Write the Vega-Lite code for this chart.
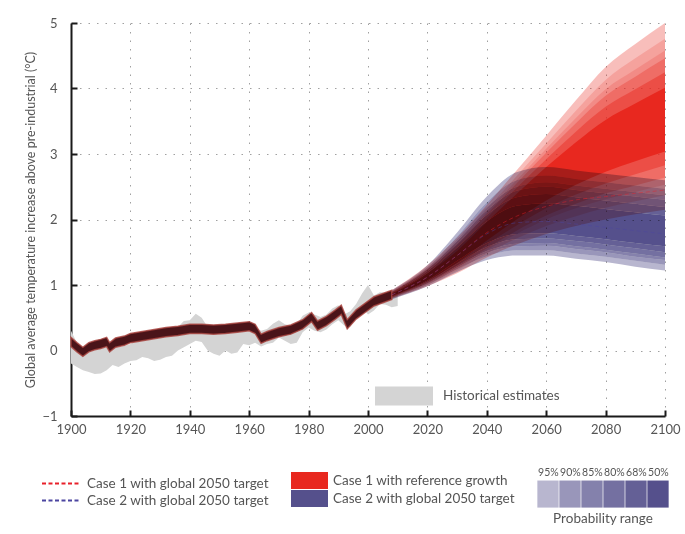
{
  "$schema": "https://vega.github.io/schema/vega-lite/v6.json",
  "width": 594,
  "height": 393,
  "autosize": {"type": "none"},
  "padding": {"left": 71, "top": 23, "right": 20, "bottom": 118},
  "background": "white",
  "config": {
    "view": {"stroke": null},
    "font": "Lato",
    "axis": {
      "labelFont": "Lato", "labelColor": "#555555", "labelFontSize": 13,
      "titleFont": "Lato", "titleColor": "#555555", "titleFontWeight": "normal",
      "domainColor": "#1a1a1a", "domainWidth": 2,
      "tickColor": "#1a1a1a", "tickWidth": 2, "tickSize": -6,
      "grid": true, "gridDash": [1.5, 7], "gridColor": "#a0a0a0", "gridWidth": 1,
      "zindex": 1
    },
    "legend": {
      "labelFont": "Lato", "labelColor": "#555555", "labelFontSize": 13, "labelLimit": 400,
      "titleFont": "Lato", "titleColor": "#555555", "titleFontWeight": "normal",
      "padding": 0, "offset": 0
    }
  },
  "datasets": {
    "hist": [
      {"year": 1900, "lo": -0.20, "hi": 0.30}, {"year": 1902, "lo": -0.25, "hi": 0.12},
      {"year": 1904, "lo": -0.30, "hi": 0.02}, {"year": 1906, "lo": -0.33, "hi": 0.00},
      {"year": 1908, "lo": -0.36, "hi": 0.05}, {"year": 1910, "lo": -0.35, "hi": 0.03},
      {"year": 1912, "lo": -0.30, "hi": 0.05}, {"year": 1914, "lo": -0.22, "hi": 0.10},
      {"year": 1916, "lo": -0.25, "hi": 0.05}, {"year": 1918, "lo": -0.20, "hi": 0.07},
      {"year": 1920, "lo": -0.16, "hi": 0.10}, {"year": 1922, "lo": -0.15, "hi": 0.14},
      {"year": 1924, "lo": -0.10, "hi": 0.17}, {"year": 1926, "lo": -0.12, "hi": 0.20},
      {"year": 1928, "lo": -0.16, "hi": 0.22}, {"year": 1930, "lo": -0.14, "hi": 0.22},
      {"year": 1932, "lo": -0.10, "hi": 0.28}, {"year": 1934, "lo": -0.08, "hi": 0.33},
      {"year": 1936, "lo": 0.00, "hi": 0.36}, {"year": 1938, "lo": 0.05, "hi": 0.45},
      {"year": 1940, "lo": 0.10, "hi": 0.46}, {"year": 1942, "lo": 0.15, "hi": 0.56},
      {"year": 1944, "lo": 0.13, "hi": 0.50}, {"year": 1946, "lo": 0.00, "hi": 0.36},
      {"year": 1948, "lo": -0.05, "hi": 0.32}, {"year": 1950, "lo": -0.08, "hi": 0.30},
      {"year": 1952, "lo": 0.00, "hi": 0.35}, {"year": 1954, "lo": -0.05, "hi": 0.30},
      {"year": 1956, "lo": -0.03, "hi": 0.32}, {"year": 1958, "lo": 0.10, "hi": 0.41},
      {"year": 1960, "lo": 0.08, "hi": 0.38}, {"year": 1962, "lo": 0.12, "hi": 0.36},
      {"year": 1964, "lo": 0.06, "hi": 0.30}, {"year": 1966, "lo": 0.10, "hi": 0.33},
      {"year": 1968, "lo": 0.12, "hi": 0.41}, {"year": 1970, "lo": 0.20, "hi": 0.46},
      {"year": 1972, "lo": 0.15, "hi": 0.40}, {"year": 1974, "lo": 0.10, "hi": 0.38},
      {"year": 1976, "lo": 0.12, "hi": 0.40}, {"year": 1978, "lo": 0.28, "hi": 0.53},
      {"year": 1980, "lo": 0.35, "hi": 0.58}, {"year": 1982, "lo": 0.30, "hi": 0.55},
      {"year": 1984, "lo": 0.28, "hi": 0.51}, {"year": 1986, "lo": 0.32, "hi": 0.55},
      {"year": 1988, "lo": 0.40, "hi": 0.64}, {"year": 1990, "lo": 0.46, "hi": 0.69},
      {"year": 1992, "lo": 0.38, "hi": 0.55}, {"year": 1994, "lo": 0.36, "hi": 0.60},
      {"year": 1996, "lo": 0.50, "hi": 0.71}, {"year": 1998, "lo": 0.66, "hi": 0.87},
      {"year": 2000, "lo": 0.55, "hi": 1.00}, {"year": 2002, "lo": 0.61, "hi": 0.84},
      {"year": 2004, "lo": 0.71, "hi": 0.89}, {"year": 2006, "lo": 0.70, "hi": 0.88},
      {"year": 2008, "lo": 0.66, "hi": 0.84}, {"year": 2010, "lo": 0.68, "hi": 0.86}
    ],
    "model": [
      {"year": 1900, "lo": 0.06, "hi": 0.20}, {"year": 1902, "lo": -0.02, "hi": 0.12},
      {"year": 1904, "lo": -0.09, "hi": 0.05}, {"year": 1906, "lo": -0.02, "hi": 0.12},
      {"year": 1908, "lo": 0.01, "hi": 0.15}, {"year": 1910, "lo": 0.03, "hi": 0.17},
      {"year": 1912, "lo": 0.06, "hi": 0.20}, {"year": 1913, "lo": -0.02, "hi": 0.12},
      {"year": 1915, "lo": 0.05, "hi": 0.19}, {"year": 1918, "lo": 0.08, "hi": 0.22},
      {"year": 1920, "lo": 0.12, "hi": 0.26}, {"year": 1924, "lo": 0.15, "hi": 0.29},
      {"year": 1928, "lo": 0.18, "hi": 0.32}, {"year": 1932, "lo": 0.21, "hi": 0.35},
      {"year": 1936, "lo": 0.23, "hi": 0.37}, {"year": 1940, "lo": 0.26, "hi": 0.40},
      {"year": 1944, "lo": 0.26, "hi": 0.40}, {"year": 1948, "lo": 0.25, "hi": 0.39},
      {"year": 1952, "lo": 0.26, "hi": 0.40}, {"year": 1956, "lo": 0.28, "hi": 0.42},
      {"year": 1960, "lo": 0.30, "hi": 0.44}, {"year": 1962, "lo": 0.26, "hi": 0.40},
      {"year": 1964, "lo": 0.11, "hi": 0.25}, {"year": 1966, "lo": 0.15, "hi": 0.29},
      {"year": 1970, "lo": 0.21, "hi": 0.35}, {"year": 1974, "lo": 0.25, "hi": 0.39},
      {"year": 1978, "lo": 0.33, "hi": 0.47}, {"year": 1981, "lo": 0.44, "hi": 0.58},
      {"year": 1983, "lo": 0.31, "hi": 0.45}, {"year": 1986, "lo": 0.38, "hi": 0.52},
      {"year": 1989, "lo": 0.48, "hi": 0.62}, {"year": 1991, "lo": 0.55, "hi": 0.69},
      {"year": 1993, "lo": 0.33, "hi": 0.47}, {"year": 1996, "lo": 0.48, "hi": 0.62},
      {"year": 1999, "lo": 0.58, "hi": 0.72}, {"year": 2002, "lo": 0.68, "hi": 0.82},
      {"year": 2005, "lo": 0.73, "hi": 0.87}, {"year": 2008, "lo": 0.78, "hi": 0.92}
    ],
    "fan1": [
      {"prob": "95%", "year": 2008, "lo": 0.79, "hi": 0.92}, {"prob": "95%", "year": 2020, "lo": 0.98, "hi": 1.30},
      {"prob": "95%", "year": 2030, "lo": 1.18, "hi": 1.72}, {"prob": "95%", "year": 2040, "lo": 1.42, "hi": 2.22},
      {"prob": "95%", "year": 2050, "lo": 1.62, "hi": 2.75}, {"prob": "95%", "year": 2060, "lo": 1.78, "hi": 3.28},
      {"prob": "95%", "year": 2070, "lo": 1.90, "hi": 3.82}, {"prob": "95%", "year": 2080, "lo": 2.00, "hi": 4.33},
      {"prob": "95%", "year": 2090, "lo": 2.08, "hi": 4.68}, {"prob": "95%", "year": 2100, "lo": 2.15, "hi": 5.00},
      {"prob": "90%", "year": 2008, "lo": 0.80, "hi": 0.91}, {"prob": "90%", "year": 2020, "lo": 1.00, "hi": 1.27},
      {"prob": "90%", "year": 2030, "lo": 1.22, "hi": 1.67}, {"prob": "90%", "year": 2040, "lo": 1.48, "hi": 2.16},
      {"prob": "90%", "year": 2050, "lo": 1.71, "hi": 2.66}, {"prob": "90%", "year": 2060, "lo": 1.90, "hi": 3.16},
      {"prob": "90%", "year": 2070, "lo": 2.05, "hi": 3.66}, {"prob": "90%", "year": 2080, "lo": 2.18, "hi": 4.13},
      {"prob": "90%", "year": 2090, "lo": 2.28, "hi": 4.46}, {"prob": "90%", "year": 2100, "lo": 2.37, "hi": 4.76},
      {"prob": "85%", "year": 2008, "lo": 0.81, "hi": 0.90}, {"prob": "85%", "year": 2020, "lo": 1.02, "hi": 1.25},
      {"prob": "85%", "year": 2030, "lo": 1.25, "hi": 1.64}, {"prob": "85%", "year": 2040, "lo": 1.53, "hi": 2.11},
      {"prob": "85%", "year": 2050, "lo": 1.78, "hi": 2.60}, {"prob": "85%", "year": 2060, "lo": 2.00, "hi": 3.08},
      {"prob": "85%", "year": 2070, "lo": 2.17, "hi": 3.55}, {"prob": "85%", "year": 2080, "lo": 2.31, "hi": 3.99},
      {"prob": "85%", "year": 2090, "lo": 2.42, "hi": 4.29}, {"prob": "85%", "year": 2100, "lo": 2.53, "hi": 4.58},
      {"prob": "80%", "year": 2008, "lo": 0.81, "hi": 0.89}, {"prob": "80%", "year": 2020, "lo": 1.03, "hi": 1.24},
      {"prob": "80%", "year": 2030, "lo": 1.27, "hi": 1.61}, {"prob": "80%", "year": 2040, "lo": 1.56, "hi": 2.08},
      {"prob": "80%", "year": 2050, "lo": 1.83, "hi": 2.55}, {"prob": "80%", "year": 2060, "lo": 2.06, "hi": 3.02},
      {"prob": "80%", "year": 2070, "lo": 2.24, "hi": 3.47}, {"prob": "80%", "year": 2080, "lo": 2.40, "hi": 3.89},
      {"prob": "80%", "year": 2090, "lo": 2.52, "hi": 4.18}, {"prob": "80%", "year": 2100, "lo": 2.64, "hi": 4.46},
      {"prob": "68%", "year": 2008, "lo": 0.82, "hi": 0.89}, {"prob": "68%", "year": 2020, "lo": 1.05, "hi": 1.21},
      {"prob": "68%", "year": 2030, "lo": 1.30, "hi": 1.57}, {"prob": "68%", "year": 2040, "lo": 1.62, "hi": 2.02},
      {"prob": "68%", "year": 2050, "lo": 1.91, "hi": 2.48}, {"prob": "68%", "year": 2060, "lo": 2.17, "hi": 2.92},
      {"prob": "68%", "year": 2070, "lo": 2.38, "hi": 3.34}, {"prob": "68%", "year": 2080, "lo": 2.55, "hi": 3.72},
      {"prob": "68%", "year": 2090, "lo": 2.69, "hi": 3.99}, {"prob": "68%", "year": 2100, "lo": 2.83, "hi": 4.25},
      {"prob": "50%", "year": 2008, "lo": 0.83, "hi": 0.87}, {"prob": "50%", "year": 2020, "lo": 1.07, "hi": 1.18},
      {"prob": "50%", "year": 2030, "lo": 1.34, "hi": 1.52}, {"prob": "50%", "year": 2040, "lo": 1.68, "hi": 1.96},
      {"prob": "50%", "year": 2050, "lo": 2.00, "hi": 2.39}, {"prob": "50%", "year": 2060, "lo": 2.29, "hi": 2.80},
      {"prob": "50%", "year": 2070, "lo": 2.53, "hi": 3.18}, {"prob": "50%", "year": 2080, "lo": 2.73, "hi": 3.52},
      {"prob": "50%", "year": 2090, "lo": 2.89, "hi": 3.77}, {"prob": "50%", "year": 2100, "lo": 3.04, "hi": 4.01}
    ],
    "fan2": [
      {"prob": "95%", "part": "l", "year": 2008, "a": 0.78, "b": 0.79}, {"prob": "95%", "part": "l", "year": 2020, "a": 0.98, "b": 1.00},
      {"prob": "95%", "part": "l", "year": 2030, "a": 1.20, "b": 1.24}, {"prob": "95%", "part": "l", "year": 2040, "a": 1.38, "b": 1.44},
      {"prob": "95%", "part": "l", "year": 2050, "a": 1.45, "b": 1.53}, {"prob": "95%", "part": "l", "year": 2060, "a": 1.45, "b": 1.53},
      {"prob": "95%", "part": "l", "year": 2070, "a": 1.40, "b": 1.48}, {"prob": "95%", "part": "l", "year": 2080, "a": 1.35, "b": 1.43},
      {"prob": "95%", "part": "l", "year": 2090, "a": 1.28, "b": 1.37}, {"prob": "95%", "part": "l", "year": 2100, "a": 1.22, "b": 1.31},
      {"prob": "95%", "part": "u", "year": 2008, "a": 0.91, "b": 0.92}, {"prob": "95%", "part": "u", "year": 2020, "a": 1.27, "b": 1.30},
      {"prob": "95%", "part": "u", "year": 2030, "a": 1.74, "b": 1.80}, {"prob": "95%", "part": "u", "year": 2040, "a": 2.26, "b": 2.35},
      {"prob": "95%", "part": "u", "year": 2050, "a": 2.60, "b": 2.72}, {"prob": "95%", "part": "u", "year": 2060, "a": 2.67, "b": 2.80},
      {"prob": "95%", "part": "u", "year": 2070, "a": 2.62, "b": 2.75}, {"prob": "95%", "part": "u", "year": 2080, "a": 2.57, "b": 2.70},
      {"prob": "95%", "part": "u", "year": 2090, "a": 2.52, "b": 2.65}, {"prob": "95%", "part": "u", "year": 2100, "a": 2.47, "b": 2.60},
      {"prob": "90%", "part": "l", "year": 2008, "a": 0.79, "b": 0.80}, {"prob": "90%", "part": "l", "year": 2020, "a": 1.00, "b": 1.02},
      {"prob": "90%", "part": "l", "year": 2030, "a": 1.24, "b": 1.27}, {"prob": "90%", "part": "l", "year": 2040, "a": 1.44, "b": 1.49},
      {"prob": "90%", "part": "l", "year": 2050, "a": 1.53, "b": 1.59}, {"prob": "90%", "part": "l", "year": 2060, "a": 1.53, "b": 1.60},
      {"prob": "90%", "part": "l", "year": 2070, "a": 1.48, "b": 1.55}, {"prob": "90%", "part": "l", "year": 2080, "a": 1.43, "b": 1.50},
      {"prob": "90%", "part": "l", "year": 2090, "a": 1.37, "b": 1.43}, {"prob": "90%", "part": "l", "year": 2100, "a": 1.31, "b": 1.38},
      {"prob": "90%", "part": "u", "year": 2008, "a": 0.90, "b": 0.91}, {"prob": "90%", "part": "u", "year": 2020, "a": 1.25, "b": 1.27},
      {"prob": "90%", "part": "u", "year": 2030, "a": 1.70, "b": 1.74}, {"prob": "90%", "part": "u", "year": 2040, "a": 2.19, "b": 2.26},
      {"prob": "90%", "part": "u", "year": 2050, "a": 2.50, "b": 2.60}, {"prob": "90%", "part": "u", "year": 2060, "a": 2.57, "b": 2.67},
      {"prob": "90%", "part": "u", "year": 2070, "a": 2.52, "b": 2.62}, {"prob": "90%", "part": "u", "year": 2080, "a": 2.47, "b": 2.57},
      {"prob": "90%", "part": "u", "year": 2090, "a": 2.42, "b": 2.52}, {"prob": "90%", "part": "u", "year": 2100, "a": 2.37, "b": 2.47},
      {"prob": "85%", "part": "l", "year": 2008, "a": 0.80, "b": 0.81}, {"prob": "85%", "part": "l", "year": 2020, "a": 1.02, "b": 1.03},
      {"prob": "85%", "part": "l", "year": 2030, "a": 1.27, "b": 1.29}, {"prob": "85%", "part": "l", "year": 2040, "a": 1.49, "b": 1.52},
      {"prob": "85%", "part": "l", "year": 2050, "a": 1.59, "b": 1.63}, {"prob": "85%", "part": "l", "year": 2060, "a": 1.60, "b": 1.64},
      {"prob": "85%", "part": "l", "year": 2070, "a": 1.55, "b": 1.59}, {"prob": "85%", "part": "l", "year": 2080, "a": 1.50, "b": 1.54},
      {"prob": "85%", "part": "l", "year": 2090, "a": 1.43, "b": 1.48}, {"prob": "85%", "part": "l", "year": 2100, "a": 1.38, "b": 1.42},
      {"prob": "85%", "part": "u", "year": 2008, "a": 0.89, "b": 0.90}, {"prob": "85%", "part": "u", "year": 2020, "a": 1.24, "b": 1.25},
      {"prob": "85%", "part": "u", "year": 2030, "a": 1.67, "b": 1.70}, {"prob": "85%", "part": "u", "year": 2040, "a": 2.14, "b": 2.19},
      {"prob": "85%", "part": "u", "year": 2050, "a": 2.44, "b": 2.50}, {"prob": "85%", "part": "u", "year": 2060, "a": 2.50, "b": 2.57},
      {"prob": "85%", "part": "u", "year": 2070, "a": 2.45, "b": 2.52}, {"prob": "85%", "part": "u", "year": 2080, "a": 2.40, "b": 2.47},
      {"prob": "85%", "part": "u", "year": 2090, "a": 2.35, "b": 2.42}, {"prob": "85%", "part": "u", "year": 2100, "a": 2.30, "b": 2.37},
      {"prob": "80%", "part": "l", "year": 2008, "a": 0.81, "b": 0.82}, {"prob": "80%", "part": "l", "year": 2020, "a": 1.03, "b": 1.05},
      {"prob": "80%", "part": "l", "year": 2030, "a": 1.29, "b": 1.33}, {"prob": "80%", "part": "l", "year": 2040, "a": 1.52, "b": 1.58},
      {"prob": "80%", "part": "l", "year": 2050, "a": 1.63, "b": 1.70}, {"prob": "80%", "part": "l", "year": 2060, "a": 1.64, "b": 1.71},
      {"prob": "80%", "part": "l", "year": 2070, "a": 1.59, "b": 1.67}, {"prob": "80%", "part": "l", "year": 2080, "a": 1.54, "b": 1.62},
      {"prob": "80%", "part": "l", "year": 2090, "a": 1.48, "b": 1.56}, {"prob": "80%", "part": "l", "year": 2100, "a": 1.42, "b": 1.50},
      {"prob": "80%", "part": "u", "year": 2008, "a": 0.88, "b": 0.89}, {"prob": "80%", "part": "u", "year": 2020, "a": 1.21, "b": 1.24},
      {"prob": "80%", "part": "u", "year": 2030, "a": 1.63, "b": 1.67}, {"prob": "80%", "part": "u", "year": 2040, "a": 2.07, "b": 2.14},
      {"prob": "80%", "part": "u", "year": 2050, "a": 2.34, "b": 2.44}, {"prob": "80%", "part": "u", "year": 2060, "a": 2.39, "b": 2.50},
      {"prob": "80%", "part": "u", "year": 2070, "a": 2.34, "b": 2.45}, {"prob": "80%", "part": "u", "year": 2080, "a": 2.29, "b": 2.40},
      {"prob": "80%", "part": "u", "year": 2090, "a": 2.24, "b": 2.35}, {"prob": "80%", "part": "u", "year": 2100, "a": 2.19, "b": 2.30},
      {"prob": "68%", "part": "l", "year": 2008, "a": 0.82, "b": 0.83}, {"prob": "68%", "part": "l", "year": 2020, "a": 1.05, "b": 1.07},
      {"prob": "68%", "part": "l", "year": 2030, "a": 1.33, "b": 1.37}, {"prob": "68%", "part": "l", "year": 2040, "a": 1.58, "b": 1.64},
      {"prob": "68%", "part": "l", "year": 2050, "a": 1.70, "b": 1.78}, {"prob": "68%", "part": "l", "year": 2060, "a": 1.71, "b": 1.79},
      {"prob": "68%", "part": "l", "year": 2070, "a": 1.67, "b": 1.75}, {"prob": "68%", "part": "l", "year": 2080, "a": 1.62, "b": 1.70},
      {"prob": "68%", "part": "l", "year": 2090, "a": 1.56, "b": 1.64}, {"prob": "68%", "part": "l", "year": 2100, "a": 1.50, "b": 1.59},
      {"prob": "68%", "part": "u", "year": 2008, "a": 0.87, "b": 0.88}, {"prob": "68%", "part": "u", "year": 2020, "a": 1.18, "b": 1.21},
      {"prob": "68%", "part": "u", "year": 2030, "a": 1.57, "b": 1.63}, {"prob": "68%", "part": "u", "year": 2040, "a": 1.97, "b": 2.07},
      {"prob": "68%", "part": "u", "year": 2050, "a": 2.21, "b": 2.34}, {"prob": "68%", "part": "u", "year": 2060, "a": 2.25, "b": 2.39},
      {"prob": "68%", "part": "u", "year": 2070, "a": 2.21, "b": 2.34}, {"prob": "68%", "part": "u", "year": 2080, "a": 2.16, "b": 2.29},
      {"prob": "68%", "part": "u", "year": 2090, "a": 2.11, "b": 2.24}, {"prob": "68%", "part": "u", "year": 2100, "a": 2.06, "b": 2.19},
      {"prob": "50%", "part": "l", "year": 2008, "a": 0.83, "b": 0.87}, {"prob": "50%", "part": "l", "year": 2020, "a": 1.07, "b": 1.18},
      {"prob": "50%", "part": "l", "year": 2030, "a": 1.37, "b": 1.57}, {"prob": "50%", "part": "l", "year": 2040, "a": 1.64, "b": 1.97},
      {"prob": "50%", "part": "l", "year": 2050, "a": 1.78, "b": 2.21}, {"prob": "50%", "part": "l", "year": 2060, "a": 1.79, "b": 2.25},
      {"prob": "50%", "part": "l", "year": 2070, "a": 1.75, "b": 2.21}, {"prob": "50%", "part": "l", "year": 2080, "a": 1.70, "b": 2.16},
      {"prob": "50%", "part": "l", "year": 2090, "a": 1.64, "b": 2.11}, {"prob": "50%", "part": "l", "year": 2100, "a": 1.59, "b": 2.06}
    ],
    "targets": [
      {"target": "Case 1 with global 2050 target", "year": 2008, "value": 0.85},
      {"target": "Case 1 with global 2050 target", "year": 2020, "value": 1.12},
      {"target": "Case 1 with global 2050 target", "year": 2030, "value": 1.45},
      {"target": "Case 1 with global 2050 target", "year": 2040, "value": 1.80},
      {"target": "Case 1 with global 2050 target", "year": 2050, "value": 2.05},
      {"target": "Case 1 with global 2050 target", "year": 2060, "value": 2.20},
      {"target": "Case 1 with global 2050 target", "year": 2070, "value": 2.30},
      {"target": "Case 1 with global 2050 target", "year": 2080, "value": 2.35},
      {"target": "Case 1 with global 2050 target", "year": 2090, "value": 2.40},
      {"target": "Case 1 with global 2050 target", "year": 2100, "value": 2.45},
      {"target": "Case 2 with global 2050 target", "year": 2008, "value": 0.85},
      {"target": "Case 2 with global 2050 target", "year": 2020, "value": 1.12},
      {"target": "Case 2 with global 2050 target", "year": 2030, "value": 1.45},
      {"target": "Case 2 with global 2050 target", "year": 2040, "value": 1.78},
      {"target": "Case 2 with global 2050 target", "year": 2050, "value": 1.95},
      {"target": "Case 2 with global 2050 target", "year": 2060, "value": 1.97},
      {"target": "Case 2 with global 2050 target", "year": 2070, "value": 1.93},
      {"target": "Case 2 with global 2050 target", "year": 2080, "value": 1.88},
      {"target": "Case 2 with global 2050 target", "year": 2090, "value": 1.83},
      {"target": "Case 2 with global 2050 target", "year": 2100, "value": 1.78}
    ]
  },
  "encoding": {
    "x": {
      "field": "year", "type": "quantitative",
      "scale": {"domain": [1900, 2100], "nice": false},
      "axis": {"values": [1900, 1920, 1940, 1960, 1980, 2000, 2020, 2040, 2060, 2080, 2100], "format": "d", "title": null, "labelPadding": 13, "labelFlush": false}
    }
  },
  "layer": [
    {
      "data": {"name": "hist"},
      "mark": {"type": "area", "interpolate": "linear"},
      "encoding": {
        "y": {"field": "lo", "type": "quantitative",
          "scale": {"domain": [-1, 5], "nice": false},
          "axis": {"values": [-1, 0, 1, 2, 3, 4, 5], "format": "d", "title": "Global average temperature increase above pre-industrial (°C)", "titleFontSize": 12.5, "titlePadding": 4, "labelPadding": 20}},
        "y2": {"field": "hi"},
        "color": {"datum": "Historical estimates", "type": "nominal",
          "scale": {"range": ["#d4d4d4"]},
          "legend": {"title": null, "orient": "none", "legendX": 304, "legendY": 344,
            "symbolType": "M-1,-0.33H1V0.33H-1Z", "symbolSize": 3364, "symbolStrokeWidth": 0,
            "labelOffset": 10, "labelFontSize": 13.5}}
      }
    },
    {
      "data": {"name": "fan1"},
      "mark": {"type": "area", "interpolate": "monotone"},
      "encoding": {
        "y": {"field": "lo", "type": "quantitative"},
        "y2": {"field": "hi"},
        "fill": {"datum": "Case 1 with reference growth", "type": "nominal",
          "scale": {"domain": ["Case 1 with reference growth", "Case 2 with global 2050 target"], "range": ["#e8281f", "#55508c"]},
          "legend": {"title": null, "orient": "none", "legendX": 220, "legendY": 449,
            "symbolType": "M-1,-0.46H1V0.46H-1Z", "symbolSize": 1369, "symbolStrokeWidth": 0, "symbolOpacity": 1,
            "labelOffset": 5, "rowPadding": 1, "clipHeight": 17, "labelFontSize": 13.5}},
        "fillOpacity": {"field": "prob", "type": "ordinal",
          "scale": {"type": "ordinal", "domain": ["50%", "68%", "80%", "85%", "90%", "95%"], "range": [1.0, 0.45, 0.3, 0.18, 0.19, 0.3]},
          "legend": null}
      }
    },
    {
      "data": {"name": "fan2"},
      "mark": {"type": "area", "interpolate": "monotone", "blend": "multiply"},
      "encoding": {
        "y": {"field": "a", "type": "quantitative"},
        "y2": {"field": "b"},
        "detail": {"field": "part", "type": "nominal"},
        "fill": {"datum": "Case 2 with global 2050 target", "type": "nominal"},
        "opacity": {"field": "prob", "type": "ordinal",
          "scale": {"type": "ordinal", "domain": ["95%", "90%", "85%", "80%", "68%", "50%"], "range": [0.42, 0.6, 0.72, 0.82, 0.91, 1.0]},
          "legend": {"title": "Probability range", "titleOrient": "bottom", "titleAnchor": "middle", "titleFontSize": 13.5, "titlePadding": 4,
            "orient": "none", "legendX": 466, "legendY": 444, "direction": "horizontal",
            "symbolType": "M-1,0.2H1V2.74H-1Z", "symbolSize": 454, "symbolStrokeWidth": 0,
            "columnPadding": 0, "labelOffset": -10.65, "labelFontSize": 10.5,
            "labelAlign": "center", "labelBaseline": "bottom"}}
      }
    },
    {
      "data": {"name": "model"},
      "mark": {"type": "area", "interpolate": "linear", "fill": "#4a1419", "stroke": "#a8413c", "strokeWidth": 1.5, "strokeOpacity": 0.8},
      "encoding": {
        "y": {"field": "lo", "type": "quantitative"},
        "y2": {"field": "hi"}
      }
    },
    {
      "data": {"name": "targets"},
      "mark": {"type": "line", "interpolate": "monotone", "strokeDash": [4, 3], "strokeWidth": 1, "opacity": 0.45},
      "encoding": {
        "y": {"field": "value", "type": "quantitative"},
        "stroke": {"field": "target", "type": "nominal",
          "scale": {"domain": ["Case 1 with global 2050 target", "Case 2 with global 2050 target"], "range": ["#e8202a", "#4b45a0"]},
          "legend": {"title": null, "orient": "none", "legendX": -30, "legendY": 452,
            "symbolType": "stroke", "symbolSize": 1521, "symbolStrokeWidth": 2, "symbolDash": [4, 2.5], "symbolOpacity": 1,
            "labelOffset": 5, "rowPadding": -3, "clipHeight": 17, "labelFontSize": 13.5}}
      }
    },
    {
      "data": {"values": [{}]},
      "mark": {"type": "rule", "color": "#ffffff", "strokeWidth": 7},
      "encoding": {"y": {"datum": 2}, "x": {"datum": 1900}, "x2": {"datum": 2100}}
    },
    {
      "data": {"values": [{}]},
      "mark": {"type": "rule", "color": "#2e3592", "strokeWidth": 4},
      "encoding": {"y": {"datum": 2}, "x": {"datum": 1900}, "x2": {"datum": 2100}}
    },
    {
      "data": {"values": [{}]},
      "mark": {"type": "rule", "color": "#e4e7ee", "strokeWidth": 8},
      "encoding": {"y": {"datum": 1.5}, "x": {"datum": 1900}, "x2": {"datum": 2100}}
    },
    {
      "data": {"values": [{}]},
      "mark": {"type": "rule", "color": "#3545a5", "strokeWidth": 4, "strokeDash": [12, 5, 4, 5]},
      "encoding": {"y": {"datum": 1.5}, "x": {"datum": 1900}, "x2": {"datum": 2100}}
    }
  ]
}
